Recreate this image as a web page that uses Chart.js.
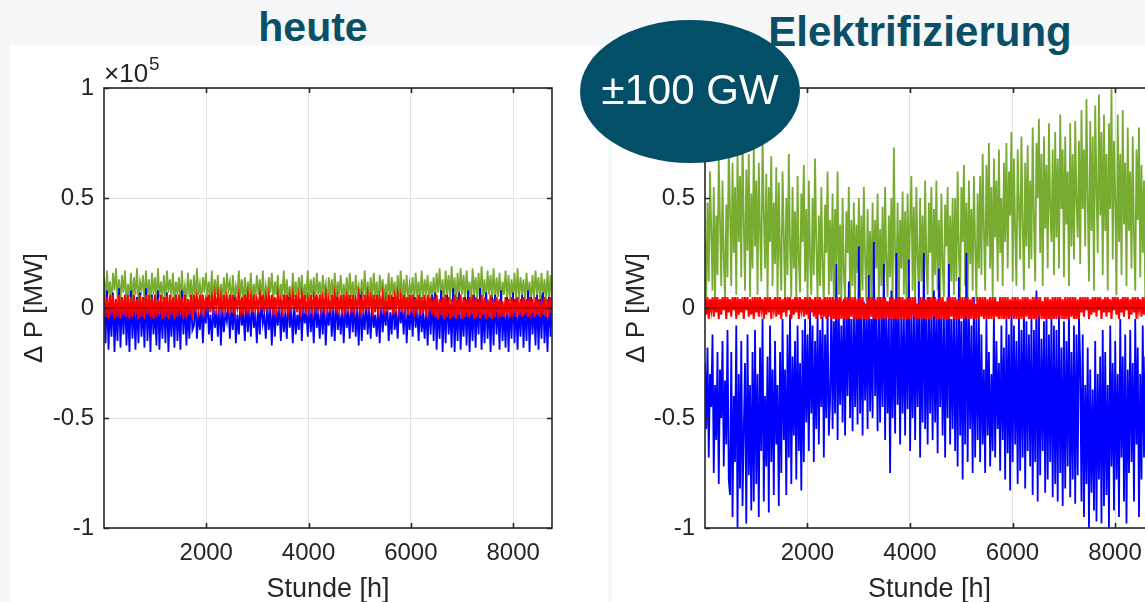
<!DOCTYPE html>
<html>
<head>
<meta charset="utf-8">
<script src="https://cdn.jsdelivr.net/npm/chart.js@4/dist/chart.umd.min.js"></script>
<style>
  html, body { margin: 0; padding: 0; }
  body { width: 1145px; height: 602px; overflow: hidden; position: relative; background: #f5f7f9; font-family: "Liberation Sans", Arial, sans-serif; }
  .panel { position: absolute; background: #ffffff; }
  .title { position: absolute; color: #0a4f66; font-weight: bold; text-align: center; line-height: 1; white-space: nowrap; }
  canvas { position: absolute; }
  #badge { position: absolute; left: 580px; top: 20px; width: 220px; height: 143px; border-radius: 50%; background: #044f68; color: #ffffff; font-size: 42px; display: flex; align-items: center; justify-content: center; white-space: nowrap; }
</style>
</head>
<body>
<div class="panel" style="left:10px; top:45px; width:598px; height:557px;"></div>
<div class="panel" style="left:612px; top:45px; width:533px; height:557px;"></div>
<div class="title" style="left:213px; top:7px; width:200px; font-size:41px;">heute</div>
<div class="title" style="left:720px; top:11px; width:400px; font-size:42px;">Elektrifizierung</div>
<canvas id="c1" width="597" height="557" style="left:10px; top:45px;"></canvas>
<canvas id="c2" width="597" height="557" style="left:612px; top:45px;"></canvas>
<div id="badge"><span style="margin-top:-4px;">±100 GW</span></div>
<script>
// Values in GW (axis unit 1 = 1e5 MW = 100 GW); evenly sampled across hours 1..8760
const hourMin = 1, hourMax = 8760;
const xTicks = [2000, 4000, 6000, 8000];
const yTicks = [-100, -50, 0, 50, 100];

// ---- heute (left panel) ----
const heuteGreen = [
 14,3,17,6,12,2,16,8,18,4,13,3,15,7,17,2,11,5,16,3,
 14,6,18,2,12,8,15,3,17,5,13,2,16,6,14,3,18,5,12,4,
 15,2,17,7,13,5,16,3,12,6,14,2,17,4,10,3,16,5,13,2,
 15,4,18,6,11,3,14,7,16,5,12,4,17,3,13,6,15,2,11,4,
 14,3,16,8,12,2,15,4,10,6,17,5,13,2,14,3,12,5,16,2,
 11,4,15,6,13,3,17,2,10,5,14,7,16,3,12,6,15,2,11,5,
 17,3,13,4,10,2,16,5,12,3,14,6,15,2,11,4,17,3,13,5,
 14,2,16,6,12,3,15,7,11,2,14,5,13,3,16,4,12,6,15,2,
 11,4,14,3,16,5,12,2,15,6,10,3,13,5,17,2,12,4,14,3,
 16,5,12,2,15,7,13,3,11,4,16,2,14,6,12,3,15,5,17,2,
 13,4,15,3,11,6,14,2,16,5,12,3,17,4,13,6,15,2,12,5,
 14,3,16,7,18,4,13,2,17,6,15,3,19,5,14,2,16,4,18,6,
 15,3,17,5,12,2,18,6,14,4,16,3,19,5,13,2,17,6,15,4,
 18,3,14,5,16,2,12,6,17,4,15,3,13,5,16,2,18,4,14,6,
 13,3,16,5,12,2,15,4,17,6,14,3,16,5,13,2,17,4,15,3];
const heuteBlue = [
 5,-16,8,-19,2,-13,7,-20,0,-15,9,-18,4,-12,6,-17,1,-20,8,-14,
 3,-19,5,-16,7,-13,2,-18,9,-15,4,-20,6,-12,0,-17,8,-19,3,-14,
 5,-16,7,-20,1,-13,4,-18,6,-15,2,-19,8,-12,3,-17,0,-14,5,-10,
 -8,4,-14,-2,-10,3,-16,0,-7,5,-12,-3,-15,2,-9,-1,-13,4,-17,1,
 -11,-2,-6,3,-14,0,-10,5,-16,-3,-12,2,-8,-1,-15,4,-11,0,-13,3,
 -9,-2,-16,1,-12,5,-7,-3,-14,2,-10,0,-17,4,-13,-1,-8,3,-15,1,
 -11,-2,-14,5,-9,0,-16,2,-12,-3,-10,4,-15,1,-7,-1,-13,3,-11,0,
 -16,5,-9,-2,-14,2,-12,4,-17,-1,-8,3,-13,0,-15,5,-10,-2,-12,1,
 -16,3,-9,-1,-14,4,-11,2,-13,0,-17,6,-15,-2,-10,3,-12,0,-14,2,
 -9,-3,-13,1,-16,4,-11,0,-8,3,-15,-2,-12,5,-10,-1,-14,2,-7,0,
 -12,4,-16,-1,-10,2,-13,5,-9,0,-15,3,-11,-2,-14,1,-17,4,-12,6,
 -15,7,-19,2,-14,8,-20,4,-16,6,-12,1,-18,9,-20,3,-15,7,-19,0,
 -13,5,-17,8,-20,2,-15,6,-18,4,-12,9,-19,1,-16,7,-14,3,-20,5,
 -17,6,-12,3,-19,8,-15,0,-18,5,-20,2,-14,7,-16,4,-19,1,-13,6,
 -18,3,-15,8,-20,5,-12,2,-17,6,-19,4,-14,7,-16,1,-20,5,-13,4];
const heuteRed = [
 6,-4,5,-5,6,-3,6,-5,4,-4,6,-5,5,-3,6,-4,6,-5,5,-4,
 6,-3,4,-5,6,-4,5,-5,6,-3,6,-4,5,-5,6,-4,4,-3,6,-5,
 5,-4,6,-5,6,-3,5,-5,6,-4,6,-2,5,-5,6,-4,4,-3,6,-5,
 6,-2,5,-1,6,-3,6,-1,4,0,6,-2,5,-1,6,0,6,-1,5,-2,
 6,-1,5,0,6,-2,6,-1,4,0,6,-1,5,-3,6,0,6,-1,5,-2,
 6,-1,4,0,6,-1,6,-2,5,0,6,-1,6,-3,5,-1,6,0,4,-1,
 6,-2,6,-1,5,0,6,-1,6,-2,5,-1,6,0,6,-3,4,-1,6,-1,
 5,0,6,-2,6,-1,5,0,6,-1,4,-2,6,-1,6,0,5,-1,6,-3,
 6,-1,5,0,6,-2,6,-1,4,0,6,-1,5,-2,6,-1,6,0,5,-1,
 6,-2,6,-1,5,0,6,-1,4,-2,6,-1,6,-3,5,0,6,-1,5,-2,
 6,-1,5,-3,6,-2,6,-4,5,-1,6,-3,5,-2,6,-4,6,-1,5,-3,
 5,-4,6,-5,4,-3,5,-5,6,-4,5,-5,4,-4,6,-5,5,-3,6,-5,
 5,-4,4,-4,5,-3,6,-5,5,-4,4,-5,6,-3,5,-5,4,-4,6,-5,
 4,-4,5,-2,4,-4,3,-4,5,-3,4,-4,5,-2,4,-4,5,-3,4,-4,
 5,-3,4,-4,5,-2,4,-4,5,-3,4,-4,3,-3,5,-4,4,-2,5,-4];

// ---- Elektrifizierung (right panel) ----
const elekGreen = [
 30,5,48,12,62,35,8,55,3,42,15,68,40,10,58,22,4,47,14,75,
 45,10,66,25,55,6,72,30,60,14,80,38,8,63,26,70,5,52,18,74,
 28,58,6,66,35,12,78,44,18,61,4,55,30,69,10,48,20,64,3,57,
 25,8,62,34,3,50,15,70,28,5,55,18,44,2,60,22,7,52,30,65,
 12,45,3,58,22,6,50,15,68,28,4,42,10,55,18,2,47,25,62,6,
 40,12,52,3,45,20,62,6,38,2,50,15,4,44,25,55,2,40,10,48,
 5,38,16,50,2,42,8,55,22,3,45,12,35,2,48,7,40,18,52,4,
 36,10,46,2,55,20,5,42,14,50,3,73,25,8,48,2,40,18,53,6,
 44,3,52,15,38,60,8,46,2,55,22,5,50,12,42,2,58,20,6,48,
 25,55,4,45,15,58,8,40,2,52,20,5,47,28,55,3,42,12,50,6,
 50,12,62,25,5,55,30,65,10,48,4,58,20,45,8,60,28,3,52,18,
 60,15,70,35,8,65,28,75,18,55,5,68,32,58,12,72,25,50,10,66,
 30,75,18,62,42,80,12,68,35,10,72,45,22,78,38,8,66,28,74,18,
 58,22,82,40,12,75,50,86,25,70,10,78,36,65,18,84,45,30,72,15,
 80,32,68,18,88,45,72,14,78,38,62,10,84,28,70,22,85,48,32,76,
 20,90,45,72,28,95,50,12,85,35,78,8,92,55,25,97,42,80,15,88,
 35,70,8,84,45,100,22,76,50,6,88,30,70,15,90,38,66,10,82,35,
 62,18,78,32,8,72,40,82,14,65,25,58,5,75,28,68,12,60,22,70];
const elekBlue = [
 -25,-55,-18,-68,-30,-45,-12,-75,-35,-60,-20,-80,-28,-50,-15,-72,-33,-62,-10,-78,
 -85,-20,-95,-40,-70,-8,-100,-30,-82,-15,-90,-55,-25,-98,-12,-76,-35,-92,-20,-88,
 -10,-80,-30,-95,-18,-65,-5,-88,-40,-72,-22,-93,-8,-70,-28,-85,-15,-62,-35,-90,
 -20,-75,-5,-60,-28,-85,-12,-68,-3,-80,-22,-58,-15,-78,-8,-65,-25,-83,-10,-70,
 -5,-52,-12,-65,0,-48,-8,-70,-15,-55,-2,-62,-10,-45,-4,-68,-12,-50,0,-58,
 -42,2,-55,-6,-48,20,-60,-3,-44,-8,-52,4,-58,-2,-40,12,-50,-5,-56,0,
 -45,-2,-53,28,-48,-4,-58,3,-42,-1,-55,15,-47,-5,-50,30,-40,-3,-56,2,
 -52,-2,-45,20,-60,0,-48,-4,-75,8,-50,-2,-57,25,-44,-5,-62,1,-48,-3,
 -58,0,-46,22,-65,-4,-50,2,-60,-1,-45,12,-68,-3,-52,25,-55,-2,-62,5,
 -48,-3,-60,8,-52,-1,-66,18,-45,-4,-58,0,-68,-2,-50,20,-62,-5,-55,2,
 -65,-2,-72,14,-58,-6,-78,0,-62,25,-70,-4,-55,-8,-75,5,-68,-2,-60,-5,
 -70,-12,-62,-28,-75,-5,-58,-20,-72,-30,-65,-3,-68,-15,-55,-25,-74,-8,-60,-18,
 -78,-5,-66,-12,-83,0,-70,-8,-62,-15,-80,-3,-74,-10,-68,2,-82,-6,-65,-12,
 -72,-4,-85,-10,-70,8,-88,-2,-76,-14,-65,-6,-84,0,-78,-12,-70,-3,-86,-8,
 -80,-10,-88,-2,-75,-18,-90,-6,-82,-15,-72,0,-86,-20,-78,-8,-89,-12,-76,-4,
 -25,-88,-12,-95,-35,-80,-18,-100,-28,-84,-37,-92,-15,-97,-30,-78,-22,-98,-10,-90,
 -20,-85,-35,-100,-8,-72,-25,-92,-15,-78,-30,-95,-5,-68,-22,-88,-12,-98,-28,-75,
 -10,-70,-25,-88,-5,-62,-18,-95,-30,-78,-8,-68,-22,-85,-12,-60,-28,-90,-15,-72];
const elekRed = [
 5,-3,5,-5,4,-1,5,-4,5,-2,5,-5,4,-3,5,-1,5,-5,5,-2,
 4,-4,5,-1,5,-5,5,-3,4,-2,5,-5,5,-1,5,-4,4,-3,5,-5,
 5,-2,5,-4,5,-1,4,-5,5,-3,5,-2,5,-5,4,-1,5,-4,5,-3,
 5,-5,4,-2,5,-4,5,-1,5,-5,4,-3,5,-2,5,-5,5,-1,4,-4,
 5,-3,5,-5,5,-2,4,-4,5,-5,5,-3,5,-5,4,-4,5,-5,5,-4,
 5,-5,5,-5,4,-5,5,-5,5,-5,3,-5,5,-5,5,-5,5,-4,5,-5,
 5,-5,4,-5,5,-5,5,-5,2,-5,5,-5,5,-4,5,-5,4,-5,5,-5,
 5,-5,5,-5,5,-4,3,-5,5,-5,5,-5,4,-5,5,-5,5,-5,5,-5,
 4,-5,5,-5,5,-5,5,-4,5,-5,2,-5,5,-5,5,-5,4,-5,5,-5,
 5,-5,5,-4,5,-5,4,-5,5,-5,5,-5,3,-5,5,-5,5,-4,5,-5,
 5,-5,4,-5,5,-5,5,-5,5,-4,5,-5,4,-5,5,-5,2,-5,5,-5,
 5,-4,5,-5,5,-5,4,-5,5,-5,5,-5,5,-4,3,-5,5,-5,5,-5,
 5,-5,5,-5,4,-4,5,-5,5,-5,5,-5,4,-5,5,-5,5,-4,5,-5,
 4,-5,5,-5,5,-5,5,-4,5,-5,3,-5,5,-5,5,-5,4,-5,5,-5,
 5,-5,5,-4,5,-5,4,-5,5,-5,5,-5,5,-4,5,-5,5,-5,4,-5,
 5,-2,5,-4,5,-1,5,-5,4,-3,5,-2,5,-4,5,-1,5,-5,4,-2,
 5,-4,5,-2,4,-5,5,-1,5,-3,5,-5,4,-2,5,-4,5,-1,5,-5,
 4,-3,5,-2,5,-5,5,-1,4,-4,5,-3,5,-2,5,-5,4,-1,5,-4];
const zeroLine = [0, 0];

const GREEN = '#77ac30', BLUE = '#0000ff', RED = '#ff0000', DARKRED = '#a80000';
const TXT = '#262626';
const FONT = '"Liberation Sans", Arial, sans-serif';

function toXY(vals) {
  const n = vals.length;
  return vals.map((v, i) => ({ x: hourMin + i * (hourMax - hourMin) / (n - 1), y: v }));
}

const framePlugin = {
  id: 'frame',
  afterDatasetsDraw(chart) {
    const { ctx, chartArea: a, scales: { x, y } } = chart;
    ctx.save();
    ctx.strokeStyle = TXT;
    ctx.lineWidth = 1.6;
    ctx.strokeRect(a.left, a.top, a.right - a.left, a.bottom - a.top);
    ctx.beginPath();
    x.ticks.forEach(t => {
      const px = Math.round(x.getPixelForValue(t.value)) + 0.5;
      ctx.moveTo(px, a.bottom); ctx.lineTo(px, a.bottom - 5);
      ctx.moveTo(px, a.top); ctx.lineTo(px, a.top + 5);
    });
    y.ticks.forEach(t => {
      const py = Math.round(y.getPixelForValue(t.value)) + 0.5;
      ctx.moveTo(a.left, py); ctx.lineTo(a.left + 5, py);
      ctx.moveTo(a.right, py); ctx.lineTo(a.right - 5, py);
    });
    ctx.stroke();
    ctx.fillStyle = TXT;
    ctx.textBaseline = 'alphabetic';
    ctx.textAlign = 'left';
    ctx.font = '26px ' + FONT;
    ctx.fillText('\u00d710', a.left, a.top - 6);
    const w = ctx.measureText('\u00d710').width;
    ctx.font = '19px ' + FONT;
    ctx.fillText('5', a.left + w + 1, a.top - 18);
    ctx.restore();
  }
};

function makeChart(id, green, blue, red, yWidth) {
  const ds = (data, color, w) => ({
    data: toXY(data), borderColor: color, borderWidth: w, pointRadius: 0, tension: 0, fill: false
  });
  return new Chart(document.getElementById(id), {
    type: 'line',
    data: {
      datasets: [
        ds(zeroLine, DARKRED, 1.5),
        ds(red, RED, 2),
        ds(blue, BLUE, 1.8),
        ds(green, GREEN, 1.8)
      ]
    },
    options: {
      responsive: false,
      animation: false,
      devicePixelRatio: 1,
      parsing: false,
      layout: { padding: { top: 43, right: 55, bottom: 0, left: 0 } },
      plugins: { legend: { display: false }, tooltip: { enabled: false } },
      scales: {
        x: {
          type: 'linear', min: hourMin, max: hourMax,
          afterBuildTicks: s => { s.ticks = xTicks.map(v => ({ value: v })); },
          afterFit: s => { s.height = 74; },
          grid: { color: '#e2e2e2', lineWidth: 1, drawTicks: false },
          border: { display: false },
          ticks: { autoSkip: false, maxRotation: 0, padding: 11, color: TXT, font: { family: FONT, size: 24 }, callback: v => String(v) },
          title: { display: true, text: 'Stunde [h]', color: TXT, font: { family: FONT, size: 27, lineHeight: 1 }, padding: { top: 0, bottom: -1 } }
        },
        y: {
          type: 'linear', min: -100, max: 100,
          afterBuildTicks: s => { s.ticks = yTicks.map(v => ({ value: v })); },
          afterFit: s => { s.width = yWidth; },
          grid: { color: '#e2e2e2', lineWidth: 1, drawTicks: false },
          border: { display: false },
          ticks: { padding: 10, color: TXT, font: { family: FONT, size: 24 }, callback: v => String(v / 100) },
          title: { display: true, text: '\u0394 P [MW]', color: TXT, font: { family: FONT, size: 26 }, padding: { top: 9, bottom: 0 } }
        }
      }
    },
    plugins: [framePlugin]
  });
}

makeChart('c1', heuteGreen, heuteBlue, heuteRed, 94);
makeChart('c2', elekGreen, elekBlue, elekRed, 93);
</script>
</body>
</html>
